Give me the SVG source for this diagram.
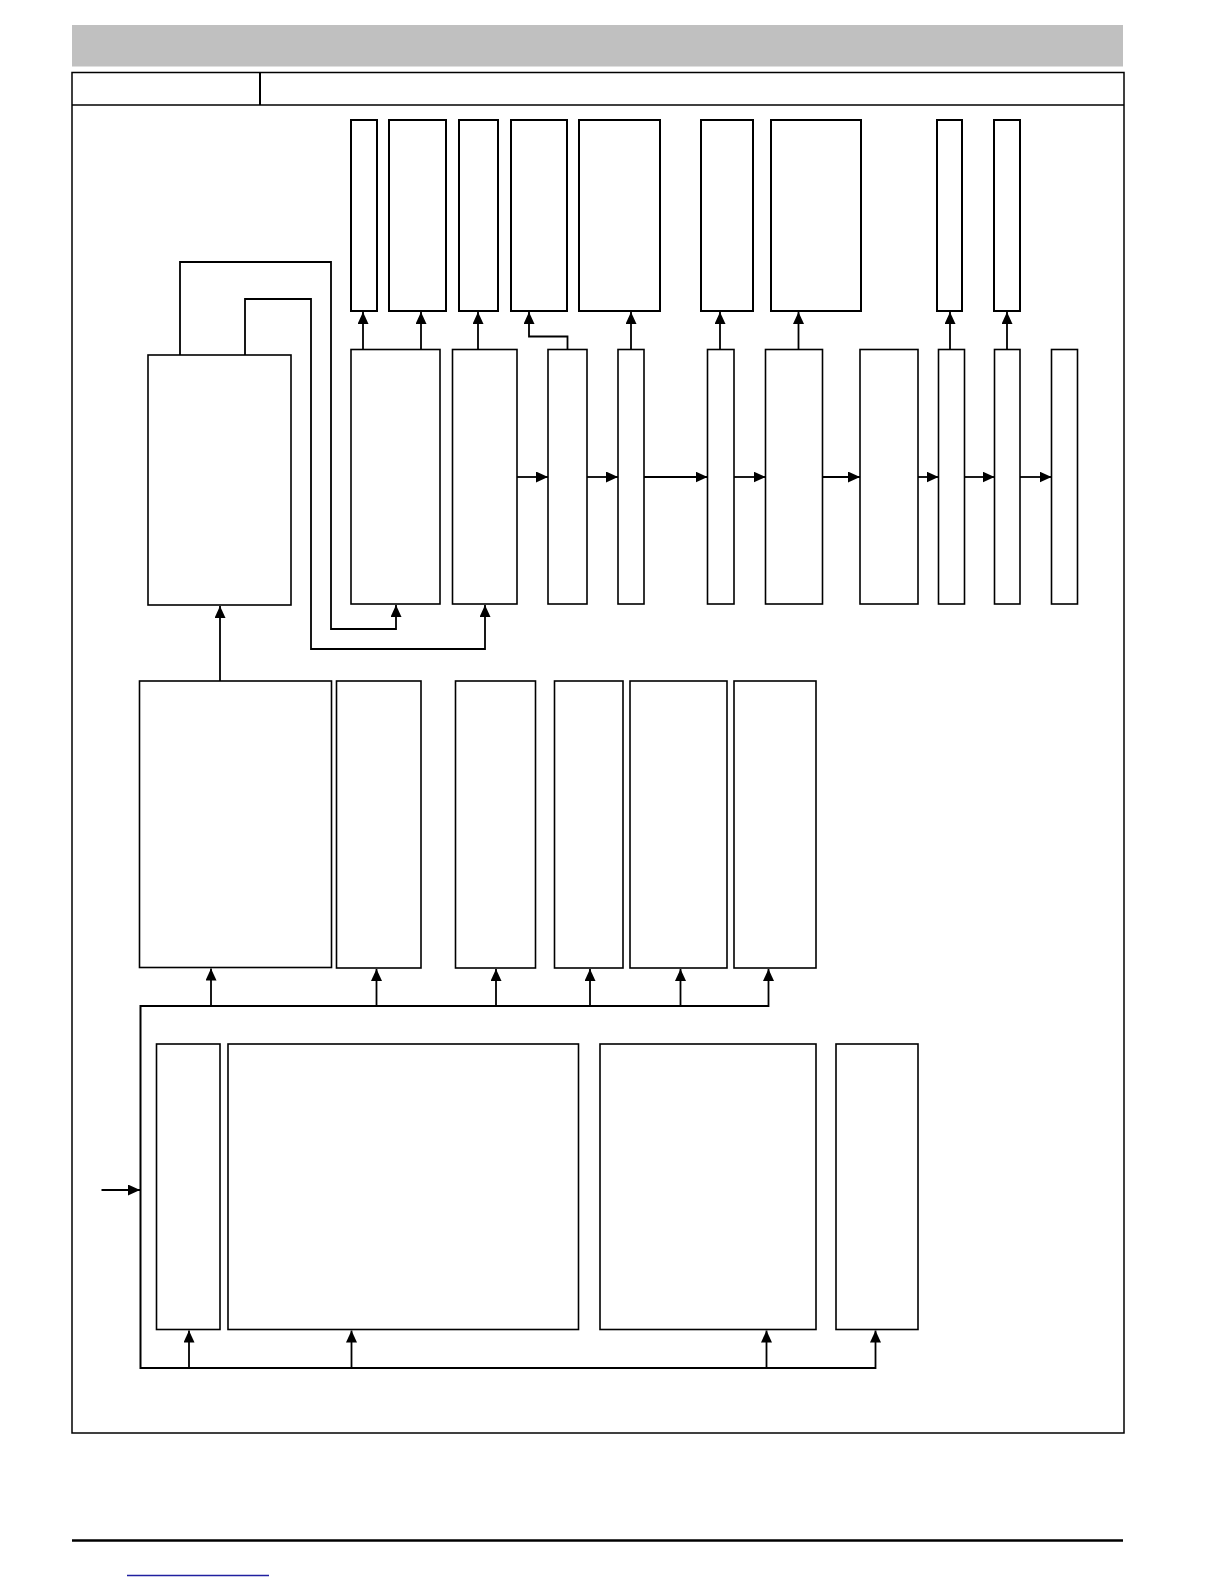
<svg xmlns="http://www.w3.org/2000/svg" width="1224" height="1584" viewBox="0 0 1224 1584">
<defs>
<style>
.bx{fill:#fff;stroke:#000;stroke-width:1.6}
.bt{fill:#fff;stroke:#000;stroke-width:2}
.c{fill:none;stroke:#000;stroke-width:1.8}
.a{fill:none;stroke:#000;stroke-width:1.8;marker-end:url(#ah)}
</style>
<marker id="ah" markerUnits="userSpaceOnUse" markerWidth="12" markerHeight="11" refX="12" refY="5.5" orient="auto" viewBox="0 0 12 11">
<path d="M0,0 L12,5.5 L0,11 z" fill="#000"/>
</marker>
</defs>
<rect width="1224" height="1584" fill="#fff"/>
<g id="header">
<rect x="72" y="25" width="1051" height="41.5" fill="#c0c0c0"/>
<rect x="72" y="72.5" width="1052" height="1360.5" fill="none" stroke="#000" stroke-width="1.5"/>
<line x1="72" y1="105" x2="1124" y2="105" stroke="#000" stroke-width="1.5"/>
<line x1="260" y1="72.5" x2="260" y2="105" stroke="#000" stroke-width="2"/>
</g>
<g id="top-row">
<rect id="t1" class="bt" x="351" y="120" width="26" height="191"/>
<rect id="t2" class="bt" x="389" y="120" width="57" height="191"/>
<rect id="t3" class="bt" x="459" y="120" width="39" height="191"/>
<rect id="t4" class="bt" x="511" y="120" width="56" height="191"/>
<rect id="t5" class="bt" x="579" y="120" width="81" height="191"/>
<rect id="t6" class="bt" x="701" y="120" width="52" height="191"/>
<rect id="t7" class="bt" x="771" y="120" width="90" height="191"/>
<rect id="t8" class="bt" x="937" y="120" width="25" height="191"/>
<rect id="t9" class="bt" x="994" y="120" width="26" height="191"/>
</g>
<g id="second-row">
<rect id="big" class="bx" x="148" y="355" width="143" height="250"/>
<rect id="rA" class="bx" x="351" y="349.5" width="89" height="254.5"/>
<rect id="rB" class="bx" x="452.5" y="349.5" width="64.5" height="254.5"/>
<rect id="rC" class="bx" x="548" y="349.5" width="39" height="254.5"/>
<rect id="rD" class="bx" x="618" y="349.5" width="26" height="254.5"/>
<rect id="rE" class="bx" x="707.5" y="349.5" width="26.5" height="254.5"/>
<rect id="rF" class="bx" x="765.5" y="349.5" width="57" height="254.5"/>
<rect id="rG" class="bx" x="860" y="349.5" width="58" height="254.5"/>
<rect id="rH" class="bx" x="938.5" y="349.5" width="26" height="254.5"/>
<rect id="rI" class="bx" x="994.5" y="349.5" width="25.5" height="254.5"/>
<rect id="rJ" class="bx" x="1051.5" y="349.5" width="26" height="254.5"/>
</g>
<g id="middle-row">
<rect id="m1" class="bx" x="139.5" y="681" width="192" height="286.5"/>
<rect id="m2" class="bx" x="336.5" y="681" width="84.5" height="287"/>
<rect id="m3" class="bx" x="455.5" y="681" width="80" height="287"/>
<rect id="m4" class="bx" x="554.5" y="681" width="68.5" height="287"/>
<rect id="m5" class="bx" x="630" y="681" width="97" height="287"/>
<rect id="m6" class="bx" x="734" y="681" width="82" height="287"/>
</g>
<g id="bottom-row">
<rect id="b1" class="bx" x="156.5" y="1044" width="63.5" height="285.5"/>
<rect id="b2" class="bx" x="228" y="1044" width="350.5" height="285.5"/>
<rect id="b3" class="bx" x="600" y="1044" width="216" height="285.5"/>
<rect id="b4" class="bx" x="836" y="1044" width="82" height="285.5"/>
</g>
<g id="connectors">
<line class="a" x1="363" y1="349.5" x2="363" y2="312"/>
<line class="a" x1="421" y1="349.5" x2="421" y2="312"/>
<line class="a" x1="478" y1="349.5" x2="478" y2="312"/>
<path class="a" d="M567.5 349.5 V336.5 H529 V312"/>
<line class="a" x1="631" y1="349.5" x2="631" y2="312"/>
<line class="a" x1="720" y1="349.5" x2="720" y2="312"/>
<line class="a" x1="798.5" y1="349.5" x2="798.5" y2="312"/>
<line class="a" x1="950" y1="349.5" x2="950" y2="312"/>
<line class="a" x1="1007" y1="349.5" x2="1007" y2="312"/>
<line class="a" x1="517" y1="477" x2="548" y2="477"/>
<line class="a" x1="587" y1="477" x2="618" y2="477"/>
<line class="a" x1="644" y1="477" x2="707.5" y2="477"/>
<line class="a" x1="734" y1="477" x2="765.5" y2="477"/>
<line class="a" x1="822.5" y1="477" x2="860" y2="477"/>
<line class="a" x1="918" y1="477" x2="938.5" y2="477"/>
<line class="a" x1="964.5" y1="477" x2="994.5" y2="477"/>
<line class="a" x1="1020" y1="477" x2="1051.5" y2="477"/>
<path class="a" d="M180 355 V262 H331 V629 H396 V605"/>
<path class="a" d="M245 355 V299 H311 V649 H485 V605"/>
<line class="a" x1="220" y1="681" x2="220" y2="606"/>
<path class="c" d="M140.5 1369 V1006 H768.5" style="stroke-width:2"/>
<line class="a" x1="211" y1="1006" x2="211" y2="968.5"/>
<line class="a" x1="376.5" y1="1006" x2="376.5" y2="969"/>
<line class="a" x1="496" y1="1006" x2="496" y2="969"/>
<line class="a" x1="590" y1="1006" x2="590" y2="969"/>
<line class="a" x1="680.5" y1="1006" x2="680.5" y2="969"/>
<line class="a" x1="768.5" y1="1007" x2="768.5" y2="969"/>
<line class="c" x1="140.5" y1="1368" x2="875.5" y2="1368" style="stroke-width:2.2"/>
<line class="a" x1="189" y1="1368" x2="189" y2="1330.5"/>
<line class="a" x1="351.5" y1="1368" x2="351.5" y2="1330.5"/>
<line class="a" x1="766.5" y1="1368" x2="766.5" y2="1330.5"/>
<line class="a" x1="875.5" y1="1369" x2="875.5" y2="1330.5"/>
<line class="a" x1="101.5" y1="1190" x2="140" y2="1190"/>
</g>
<g id="footer">
<line x1="72" y1="1540.5" x2="1123" y2="1540.5" stroke="#000" stroke-width="2.5"/>
<line x1="127" y1="1575.5" x2="269" y2="1575.5" stroke="#2020a0" stroke-width="1.3"/>
</g>
</svg>
